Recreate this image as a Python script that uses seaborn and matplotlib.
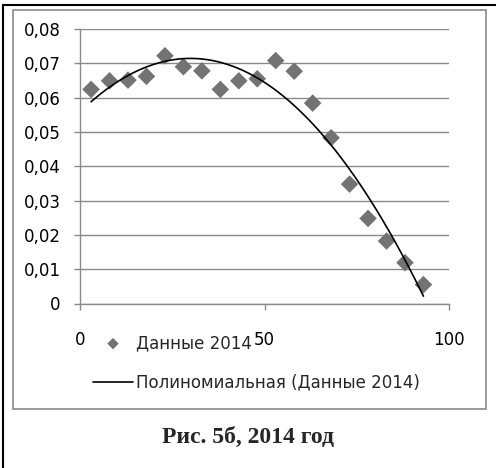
import numpy as np
import pandas as pd
import matplotlib
matplotlib.use("Agg")
import matplotlib.pyplot as plt
from matplotlib.lines import Line2D
from matplotlib.patches import Rectangle
from matplotlib.ticker import FuncFormatter
import seaborn as sns

# ---- data ----
x_vals = [3, 8, 13, 18, 23, 28, 33, 38, 43, 48, 53, 58, 63, 68, 73, 78, 83, 88, 93]
y_vals = [0.0624, 0.0649, 0.0651, 0.0662, 0.0722, 0.0690, 0.0678, 0.0624, 0.0649,
          0.0655, 0.0708, 0.0677, 0.0584, 0.0483, 0.0348, 0.0248, 0.0182, 0.0119, 0.0055]
series_label = "Данные 2014"
trend_label = "Полиномиальная (Данные 2014)"
title_text = "Рис. 5б, 2014 год"
y_ticks = [0, 0.01, 0.02, 0.03, 0.04, 0.05, 0.06, 0.07, 0.08]
x_ticks = [0, 50, 100]

df = pd.DataFrame({"x": x_vals, "y": y_vals})
coef = np.polyfit(df["x"], df["y"], 2)
xs = np.linspace(min(x_vals), max(x_vals), 200)
trend = pd.DataFrame({"x": xs, "y": np.polyval(coef, xs)})

sns.set_theme(style="white")
plt.rcParams["font.family"] = ["DejaVu Sans"]

W, H = 496, 468
fig = plt.figure(figsize=(W / 100, H / 100), dpi=100)
fig.patch.set_facecolor("white")

def fx(px):
    return px / W

def fy(py):
    return 1 - py / H

ax = fig.add_axes([fx(80), fy(303.5), fx(449.3) - fx(80), fy(29) - fy(303.5)])

grid_c = "#8a8a8a"
sns.scatterplot(data=df, x="x", y="y", marker="D", s=80, color="#737373",
                edgecolor="none", ax=ax, label=series_label, zorder=3)
sns.lineplot(data=trend, x="x", y="y", color="black", linewidth=1.2, ax=ax,
             label=trend_label, zorder=4)

ax.set_xlim(0, 100)
ax.set_ylim(0, 0.08)
ax.set_xticks(x_ticks)
ax.set_yticks(y_ticks)
ax.yaxis.set_major_formatter(FuncFormatter(lambda v, p: "0" if v == 0 else f"{v:.2f}".replace(".", ",")))
ax.xaxis.set_major_formatter(FuncFormatter(lambda v, p: f"{int(v)}"))
ax.set_xlabel("")
ax.set_ylabel("")
ax.yaxis.grid(True, color=grid_c, linewidth=1.0)
ax.xaxis.grid(False)
for side in ["top", "right"]:
    ax.spines[side].set_visible(False)
for side in ["left", "bottom"]:
    ax.spines[side].set_color(grid_c)
    ax.spines[side].set_linewidth(1.0)
ax.tick_params(axis="y", direction="out", length=4, width=1, color=grid_c,
               labelsize=12, labelcolor="black", pad=10, left=True)
ax.tick_params(axis="x", direction="out", length=4, width=1, color=grid_c,
               labelsize=12, labelcolor="black", pad=16, bottom=True)

handles, labels = ax.get_legend_handles_labels()
ax.legend(handles, labels, loc="upper left",
          bbox_to_anchor=(fx(93), fy(334)), bbox_transform=fig.transFigure,
          frameon=False, fontsize=12, handlelength=2.4, handletextpad=0.15,
          labelspacing=1.3, borderpad=0, borderaxespad=0, scatterpoints=1,
          markerscale=0.65)

# chart area frame
fig.add_artist(Rectangle((fx(13), fy(409)), fx(486) - fx(13), fy(10) - fy(409),
                         transform=fig.transFigure, fill=False,
                         edgecolor=grid_c, linewidth=1.2))
# outer black frame lines
fig.add_artist(Line2D([fx(3), fx(3)], [fy(5), 0], transform=fig.transFigure,
                      color="black", linewidth=1.5))
fig.add_artist(Line2D([fx(3), 1], [fy(5), fy(5)], transform=fig.transFigure,
                      color="black", linewidth=1.5))

fig.text(0.5, fy(437), title_text, ha="center", va="center",
         fontsize=17, fontweight="bold", family=["Liberation Serif", "DejaVu Serif"])

fig.savefig("out.png", dpi=100)
